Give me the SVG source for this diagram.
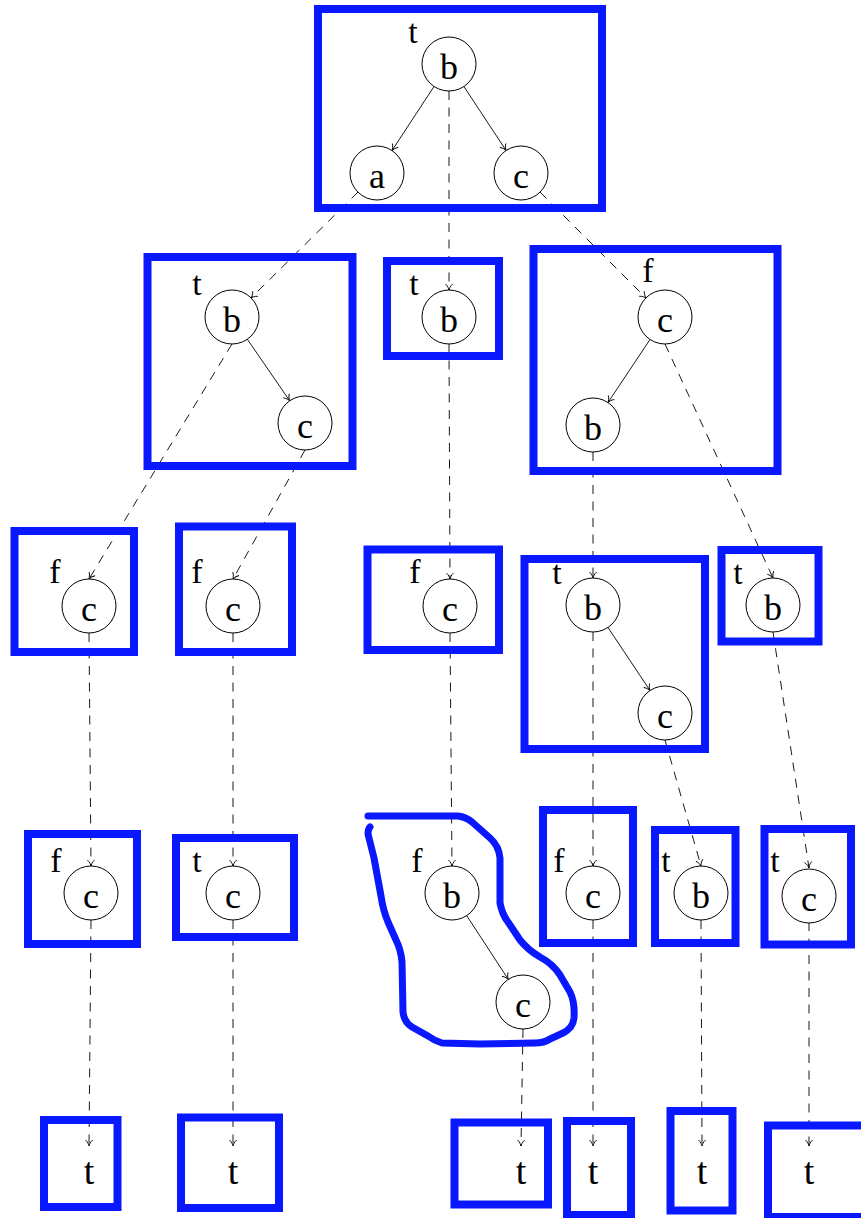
<svg xmlns="http://www.w3.org/2000/svg" width="861" height="1218" viewBox="0 0 861 1218">
<style>
.box{fill:none;stroke:#0a18ff;stroke-width:8}
.blob{fill:none;stroke:#0a18ff;stroke-width:7;stroke-linecap:round;stroke-linejoin:round}
.nd{fill:#fff;stroke:#000;stroke-width:1}
.lt{font-family:"Liberation Serif","Times New Roman",serif;font-size:36px;text-anchor:middle;fill:#000}
.lb{font-family:"Liberation Serif","Times New Roman",serif;font-size:34px;text-anchor:middle;fill:#000}
.bt{font-family:"Liberation Serif","Times New Roman",serif;font-size:38px;text-anchor:middle;fill:#000}
.e{stroke:#000;stroke-width:0.9;fill:none;marker-end:url(#ar)}
.d{stroke:#000;stroke-width:0.9;fill:none;stroke-dasharray:9 7.5;marker-end:url(#ar)}
</style>
<defs>
<marker id="ar" markerUnits="userSpaceOnUse" viewBox="-8 -5 10 10" refX="0" refY="0" markerWidth="10" markerHeight="10" orient="auto">
<path d="M-6,-3.6 C-4,-1.2 -1.2,-0.3 0,0 C-1.2,0.3 -4,1.2 -6,3.6" fill="none" stroke="#000" stroke-width="0.9" stroke-dasharray="none"/>
</marker>
</defs>
<rect width="861" height="1218" fill="#fff"/>
<g id="connectors">
<line class="e" x1="434" y1="86.5" x2="392" y2="150.5"/>
<line class="e" x1="463.9" y1="86.5" x2="506.1" y2="150.5"/>
<line class="e" x1="247.3" y1="339.2" x2="289.7" y2="400.8"/>
<line class="e" x1="650" y1="339.5" x2="608" y2="402.5"/>
<line class="e" x1="608" y1="627.5" x2="650" y2="690.5"/>
<line class="e" x1="466.7" y1="915.6" x2="508.3" y2="979.4"/>
<line class="d" x1="358" y1="192" x2="251" y2="298"/>
<line class="d" x1="449" y1="91" x2="449" y2="290"/>
<line class="d" x1="540" y1="192" x2="646" y2="298"/>
<line class="d" x1="232" y1="344" x2="89" y2="579"/>
<line class="d" x1="305" y1="450" x2="233" y2="579"/>
<line class="d" x1="449" y1="344" x2="450" y2="579"/>
<line class="d" x1="593" y1="452" x2="593" y2="578"/>
<line class="d" x1="665" y1="344" x2="773" y2="578"/>
<line class="d" x1="89" y1="633" x2="91" y2="866"/>
<line class="d" x1="233" y1="633" x2="233" y2="866"/>
<line class="d" x1="450" y1="633" x2="452" y2="866"/>
<line class="d" x1="593" y1="632" x2="593" y2="866"/>
<line class="d" x1="665" y1="740" x2="701" y2="866"/>
<line class="d" x1="773" y1="632" x2="809" y2="868"/>
<line class="d" x1="91" y1="920" x2="89" y2="1146"/>
<line class="d" x1="233" y1="920" x2="233" y2="1146"/>
<line class="d" x1="523" y1="1029" x2="521" y2="1146"/>
<line class="d" x1="593" y1="920" x2="593" y2="1146"/>
<line class="d" x1="701" y1="920" x2="702" y2="1146"/>
<line class="d" x1="809" y1="922" x2="809" y2="1146"/>
</g>
<g id="tree-root">
<rect class="box" x="318" y="9" width="284" height="199"/>
<text class="lb" x="413" y="43">t</text>
<g id="n-root-b"><circle class="nd" cx="449" cy="64" r="27"/><text class="lt" x="449" y="79">b</text></g>
<g id="n-root-a"><circle class="nd" cx="377" cy="173" r="27"/><text class="lt" x="377" y="188">a</text></g>
<g id="n-root-c"><circle class="nd" cx="521" cy="173" r="27"/><text class="lt" x="521" y="188">c</text></g>
</g>
<g id="tree-2a">
<rect class="box" x="147.5" y="257" width="205" height="209"/>
<text class="lb" x="197" y="295">t</text>
<g id="n-2a-b"><circle class="nd" cx="232" cy="317" r="27"/><text class="lt" x="232" y="332">b</text></g>
<g id="n-2a-c"><circle class="nd" cx="305" cy="423" r="27"/><text class="lt" x="305" y="438">c</text></g>
</g>
<g id="tree-2b">
<rect class="box" x="387" y="261" width="112" height="95"/>
<text class="lb" x="414" y="295">t</text>
<g id="n-2b-b"><circle class="nd" cx="449" cy="317" r="27"/><text class="lt" x="449" y="332">b</text></g>
</g>
<g id="tree-2c">
<rect class="box" x="533.5" y="249" width="244" height="222"/>
<text class="lb" x="648" y="282">f</text>
<g id="n-2c-c"><circle class="nd" cx="665" cy="317" r="27"/><text class="lt" x="665" y="332">c</text></g>
<g id="n-2c-b"><circle class="nd" cx="593" cy="425" r="27"/><text class="lt" x="593" y="440">b</text></g>
</g>
<g id="tree-3a">
<rect class="box" x="14.5" y="531" width="119.5" height="121"/>
<text class="lb" x="55" y="583">f</text>
<g id="n-3a-c"><circle class="nd" cx="89" cy="606" r="27"/><text class="lt" x="89" y="621">c</text></g>
</g>
<g id="tree-3b">
<rect class="box" x="179" y="526.5" width="113" height="125.5"/>
<text class="lb" x="197" y="583">f</text>
<g id="n-3b-c"><circle class="nd" cx="233" cy="606" r="27"/><text class="lt" x="233" y="621">c</text></g>
</g>
<g id="tree-3c">
<rect class="box" x="367.5" y="549.5" width="131.5" height="100.5"/>
<text class="lb" x="415" y="583">f</text>
<g id="n-3c-c"><circle class="nd" cx="450" cy="606" r="27"/><text class="lt" x="450" y="621">c</text></g>
</g>
<g id="tree-3d">
<rect class="box" x="524.5" y="559" width="180.5" height="190"/>
<text class="lb" x="557" y="584">t</text>
<g id="n-3d-b"><circle class="nd" cx="593" cy="605" r="27"/><text class="lt" x="593" y="620">b</text></g>
<g id="n-3d-c"><circle class="nd" cx="665" cy="713" r="27"/><text class="lt" x="665" y="728">c</text></g>
</g>
<g id="tree-3e">
<rect class="box" x="721.5" y="550" width="97" height="91.5"/>
<text class="lb" x="738" y="584">t</text>
<g id="n-3e-b"><circle class="nd" cx="773" cy="605" r="27"/><text class="lt" x="773" y="620">b</text></g>
</g>
<g id="tree-4a">
<rect class="box" x="28" y="834" width="109" height="110"/>
<text class="lb" x="56" y="872">f</text>
<g id="n-4a-c"><circle class="nd" cx="91" cy="893" r="27"/><text class="lt" x="91" y="908">c</text></g>
</g>
<g id="tree-4b">
<rect class="box" x="176" y="838" width="118" height="99"/>
<text class="lb" x="197" y="872">t</text>
<g id="n-4b-c"><circle class="nd" cx="233" cy="893" r="27"/><text class="lt" x="233" y="908">c</text></g>
</g>
<g id="tree-4c">
<path class="blob" d="M368,816 L458,816 Q466,817 472,822 L490,838 Q499,846 500,858 L500,903 Q502,914 508,922 L520,940 Q528,950 540,957 Q553,964 560,975 L570,992 Q575,1002 574,1018 Q573,1028 563,1033 L550,1039 Q544,1043 535,1043 L480,1044 L442,1043 Q435,1041 428,1036 L412,1027 Q404,1022 403,1012 L402,962 Q401,950 396,940 L388,922 Q383,910 381,896 L374,858 L368,834 Q368,829 370,827"/>
<text class="lb" x="417" y="872">f</text>
<g id="n-4c-b"><circle class="nd" cx="452" cy="893" r="27"/><text class="lt" x="452" y="908">b</text></g>
<g id="n-4c-c"><circle class="nd" cx="523" cy="1002" r="27"/><text class="lt" x="523" y="1017">c</text></g>
</g>
<g id="tree-4d">
<rect class="box" x="543" y="810" width="90" height="133"/>
<text class="lb" x="559" y="872">f</text>
<g id="n-4d-c"><circle class="nd" cx="593" cy="893" r="27"/><text class="lt" x="593" y="908">c</text></g>
</g>
<g id="tree-4e">
<rect class="box" x="655" y="830" width="80.5" height="113"/>
<text class="lb" x="666" y="872">t</text>
<g id="n-4e-b"><circle class="nd" cx="701" cy="893" r="27"/><text class="lt" x="701" y="908">b</text></g>
</g>
<g id="tree-4f">
<rect class="box" x="764.5" y="829" width="86.5" height="115.5"/>
<text class="lb" x="775" y="872">t</text>
<g id="n-4f-c"><circle class="nd" cx="809" cy="896" r="27"/><text class="lt" x="809" y="911">c</text></g>
</g>
<g id="leaf-1"><rect class="box" x="44" y="1120" width="73.5" height="87"/><text class="bt" x="89" y="1184">t</text></g>
<g id="leaf-2"><rect class="box" x="181" y="1117.5" width="98" height="90.5"/><text class="bt" x="233" y="1184">t</text></g>
<g id="leaf-3"><rect class="box" x="454.5" y="1122.5" width="93.5" height="82"/><text class="bt" x="521" y="1184">t</text></g>
<g id="leaf-4"><rect class="box" x="567" y="1121" width="64" height="94"/><text class="bt" x="593" y="1184">t</text></g>
<g id="leaf-5"><rect class="box" x="670.5" y="1111" width="62" height="99.5"/><text class="bt" x="702" y="1184">t</text></g>
<g id="leaf-6"><rect class="box" x="768" y="1125.5" width="100" height="91.5"/><text class="bt" x="809" y="1184">t</text></g>
</svg>
